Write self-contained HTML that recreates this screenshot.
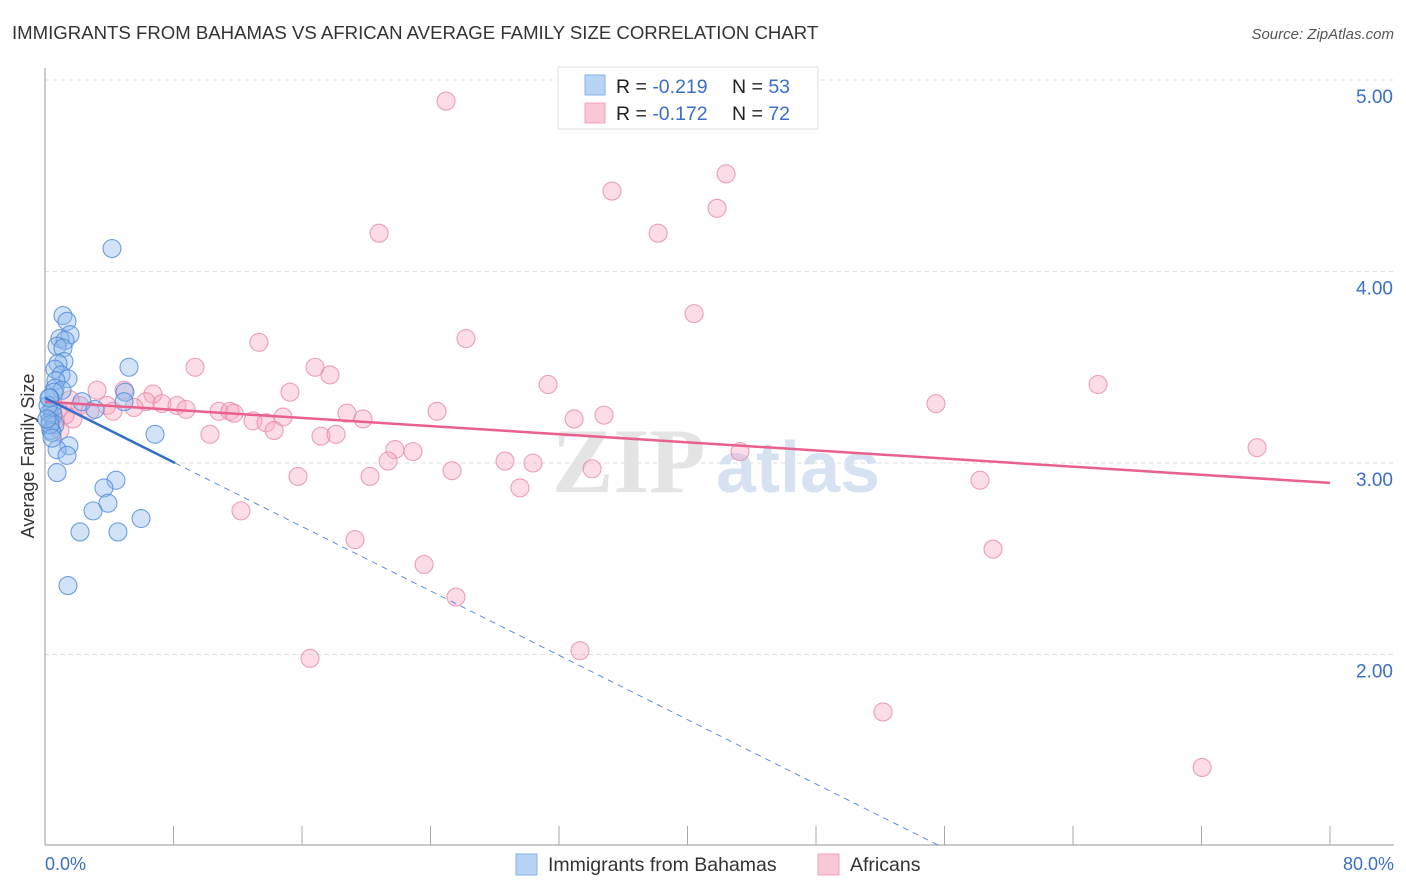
<!DOCTYPE html>
<html><head><meta charset="utf-8"><style>
body{margin:0;background:#fff;font-family:"Liberation Sans",sans-serif;}
#wrap{position:relative;width:1406px;height:892px;overflow:hidden;}
</style></head><body>
<div id="wrap">
<svg id="chart" width="1406" height="892" xmlns="http://www.w3.org/2000/svg">
<text x="12" y="39" font-size="18.6" fill="#333">IMMIGRANTS FROM BAHAMAS VS AFRICAN AVERAGE FAMILY SIZE CORRELATION CHART</text>
<text x="1394" y="39" font-size="15" fill="#555" text-anchor="end" font-style="italic">Source: ZipAtlas.com</text>
<g id="grid"></g>
<g>
<text x="552" y="492" font-size="92" fill="#e4e4e4" font-family="Liberation Serif,serif" font-weight="bold">ZIP</text>
<text x="716" y="492" font-size="72" fill="#d6e2f2" font-weight="bold">atlas</text>
</g>
<line x1="45" y1="68" x2="45" y2="845" stroke="#aaa" stroke-width="1.2"/>
<line x1="45" y1="845" x2="1394" y2="845" stroke="#aaa" stroke-width="1.2"/>
<g id="xticks"></g>
<g id="yticks"></g>
<text transform="translate(34,456) rotate(-90)" font-size="18" fill="#333" text-anchor="middle">Average Family Size</text>
<text x="45" y="870" font-size="18" fill="#3a6fc9">0.0%</text>
<text x="1394" y="870" font-size="18" fill="#3a6fc9" text-anchor="end">80.0%</text>
<g id="pinkPts"></g>
<g id="bluePts"></g>
<g id="trends"></g>
<g>
<rect x="558" y="67" width="260" height="62" fill="#fff" stroke="#ddd"/>
<rect x="585" y="75" width="20" height="20" fill="#b7d3f5" stroke="#8ab2e8"/>
<rect x="585" y="103" width="20" height="20" fill="#fac7d6" stroke="#f0a3bb"/>
<text x="616" y="93" font-size="19.5" fill="#222">R = <tspan fill="#3a6fc9">-0.219</tspan></text>
<text x="732" y="93" font-size="19.5" fill="#222">N = <tspan fill="#3a6fc9">53</tspan></text>
<text x="616" y="120" font-size="19.5" fill="#222">R = <tspan fill="#3a6fc9">-0.172</tspan></text>
<text x="732" y="120" font-size="19.5" fill="#222">N = <tspan fill="#3a6fc9">72</tspan></text>
</g>
<g>
<rect x="516" y="854" width="21" height="21" fill="#b7d3f5" stroke="#8ab2e8"/>
<text x="548" y="871" font-size="19.5" fill="#333">Immigrants from Bahamas</text>
<rect x="818" y="854" width="21" height="21" fill="#fac7d6" stroke="#f0a3bb"/>
<text x="850" y="871" font-size="19.5" fill="#333">Africans</text>
</g>
</svg>
</div>
<script>
const blueX=[4.17,1.12,1.37,1.56,0.93,1.25,0.75,1.12,1.18,0.81,5.23,0.62,1.00,1.43,0.68,0.62,1.06,0.56,4.98,0.31,2.30,4.92,3.11,0.44,0.25,0.50,0.31,0.62,0.37,0.44,6.85,1.49,0.75,1.37,0.75,4.42,3.67,3.92,2.99,5.98,2.18,4.54,1.43,0.19,0.31,0.12,0.44,0.25];
const blueY=[4.12,3.77,3.74,3.67,3.65,3.64,3.61,3.60,3.53,3.52,3.50,3.49,3.46,3.44,3.43,3.39,3.38,3.37,3.37,3.34,3.32,3.32,3.28,3.28,3.26,3.25,3.22,3.20,3.17,3.16,3.15,3.09,3.07,3.04,2.95,2.91,2.87,2.79,2.75,2.71,2.64,2.64,2.36,3.30,3.20,3.23,3.13,3.34];
const pinkX=[24.97,35.30,42.40,41.84,38.17,20.80,13.32,26.21,40.41,9.34,16.81,17.74,31.32,65.56,3.24,4.92,6.72,15.25,55.47,3.86,6.29,7.28,8.22,8.78,5.54,4.23,10.83,11.52,11.77,24.41,18.80,14.82,19.80,32.94,34.80,12.95,13.76,14.26,1.74,1.25,10.27,17.18,18.12,21.79,22.91,43.27,75.46,21.36,28.64,30.38,25.34,34.06,15.75,20.23,58.21,29.57,12.20,19.30,59.02,23.60,25.59,33.31,16.50,52.17,72.04,0.81,0.62,2.18,0.93,2.80,1.56];
const pinkY=[4.89,4.42,4.51,4.33,4.20,4.20,3.63,3.65,3.78,3.50,3.50,3.46,3.41,3.41,3.38,3.38,3.36,3.37,3.31,3.30,3.32,3.31,3.30,3.28,3.29,3.27,3.27,3.27,3.26,3.27,3.26,3.24,3.23,3.23,3.25,3.22,3.21,3.17,3.23,3.25,3.15,3.14,3.15,3.07,3.06,3.06,3.08,3.01,3.01,3.00,2.96,2.97,2.93,2.93,2.91,2.87,2.75,2.60,2.55,2.47,2.30,2.02,1.98,1.70,1.41,3.28,3.22,3.30,3.17,3.27,3.33];
const yTicks=[2,3,4,5];
const yTickLabels=["2.00","3.00","4.00","5.00"];
const xTicks=[0,8,16,24,32,40,48,56,64,72,80];
const blueTrend=[3.34,-0.042];
const pinkTrend=[3.32,-0.0053];
const NS='http://www.w3.org/2000/svg';
function sx(v){return 45+v*(1285/80);}
function sy(v){return 80+(5-v)*191.5;}
function mk(t,a){const e=document.createElementNS(NS,t);for(const k in a)e.setAttribute(k,a[k]);return e;}
const grid=document.getElementById('grid'),yt=document.getElementById('yticks'),xt=document.getElementById('xticks');
yTicks.forEach((v,i)=>{
 const l=mk('line',{x1:45,x2:1394,y1:sy(v),y2:sy(v),stroke:'#ddd','stroke-dasharray':'4,4'});
 
 
 grid.appendChild(l);
 const t=mk('text',{x:1393,y:sy(v)+23,'font-size':19,fill:'#3a6fc9','text-anchor':'end'});
 
 
 t.textContent=yTickLabels[i];yt.appendChild(t);
});
xTicks.forEach(v=>{
 const l=mk('line',{x1:sx(v),x2:sx(v),y1:826,y2:845,stroke:'#aaa'});
 
 
 xt.appendChild(l);
});
function pts(g,X,Y,fill,stroke,name){
 X.forEach((x,i)=>{
  const c=mk('circle',{cx:sx(x),cy:sy(Y[i]),r:9,fill:fill,'fill-opacity':0.4,stroke:stroke,'stroke-width':1.1,'stroke-opacity':0.8});
  
  
  g.appendChild(c);
 });
}
pts(document.getElementById('pinkPts'),pinkX,pinkY,'#f7a8c0','#e98aa8','africans-point');
pts(document.getElementById('bluePts'),blueX,blueY,'#8fb8ec','#4f8ad8','bahamas-point');
const tr=document.getElementById('trends');
const pl=mk('line',{x1:sx(0),y1:sy(pinkTrend[0]),x2:sx(80),y2:sy(pinkTrend[0]+pinkTrend[1]*80),stroke:'#e8608d','stroke-width':2.5});


tr.appendChild(pl);
const xs=8.1, xe=(1-blueTrend[0])/blueTrend[1];
const bl=mk('line',{x1:sx(0),y1:sy(blueTrend[0]),x2:sx(xs),y2:sy(blueTrend[0]+blueTrend[1]*xs),stroke:'#2f6fd0','stroke-width':2.5});


tr.appendChild(bl);
const bd=mk('line',{x1:sx(xs),y1:sy(blueTrend[0]+blueTrend[1]*xs),x2:sx(xe),y2:sy(1),stroke:'#5b8fd8','stroke-width':1,'stroke-dasharray':'6,5'});


tr.appendChild(bd);
</script>
</body></html>
